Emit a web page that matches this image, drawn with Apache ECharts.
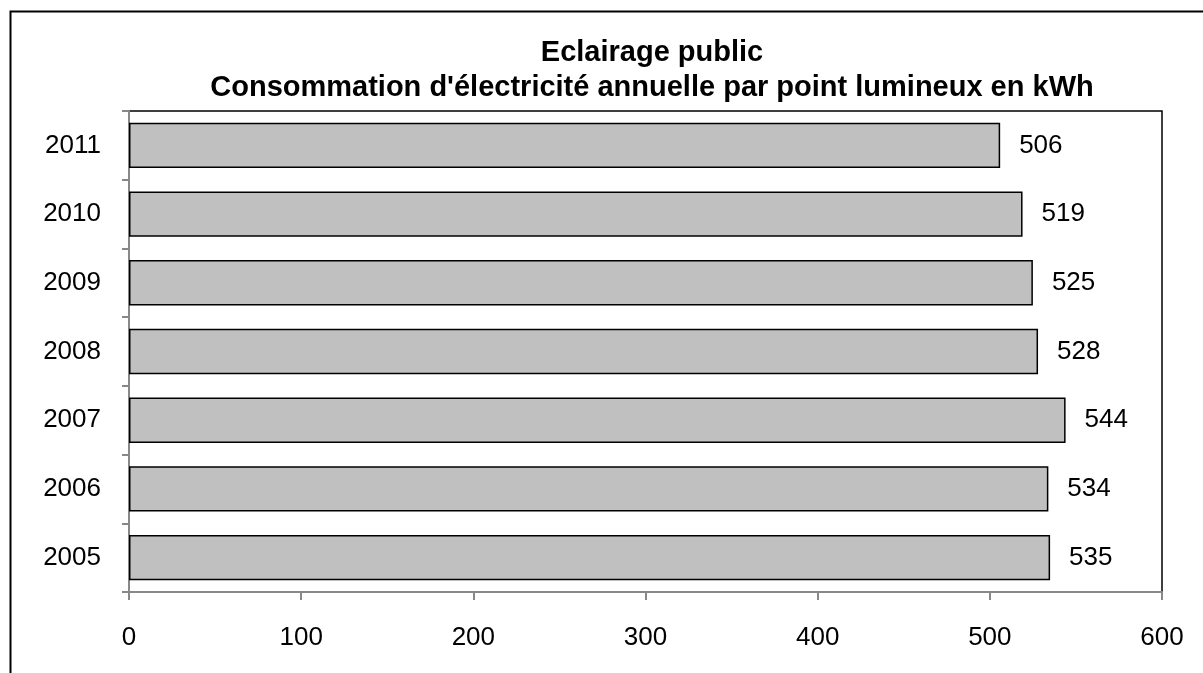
<!DOCTYPE html>
<html><head><meta charset="utf-8">
<script src="https://cdn.jsdelivr.net/npm/echarts@6/dist/echarts.min.js"></script>
<style>html,body{margin:0;padding:0;background:#fff}#c{width:1203px;height:673px}</style>
</head><body><div id="c"></div>
<script>
var years = ['2005','2006','2007','2008','2009','2010','2011'];
var values = [535, 534, 544, 528, 525, 519, 506];
var xTicks = [0, 100, 200, 300, 400, 500, 600];
var titleLines = ['Eclairage public', "Consommation d'électricité annuelle par point lumineux en kWh"];

var chart = echarts.init(document.getElementById('c'));
var F = 'Liberation Sans, Arial, sans-serif';
chart.setOption({
  animation: false,
  backgroundColor: '#fff',
  title: {
    text: titleLines.join('\n'),
    left: 647, top: 30, textAlign: 'center',
    textStyle: {fontFamily: F, fontSize: 29, fontWeight: 'bold', color: '#000', lineHeight: 35}
  },
  graphic: [{
    type: 'rect', silent: true, z: 100,
    shape: {x: 10.5, y: 11.5, width: 1400, height: 1000},
    style: {fill: 'none', stroke: '#000', lineWidth: 2}
  }],
  grid: {left: 129, right: 41, top: 111, bottom: 81, show: true, borderColor: '#000', borderWidth: 1.5, backgroundColor: '#fff'},
  xAxis: {
    type: 'value', min: 0, max: 600, interval: 100,
    axisLine: {show: true, lineStyle: {color: '#888', width: 2}},
    axisTick: {show: true, length: 8, lineStyle: {color: '#888', width: 2}},
    splitLine: {show: false},
    axisLabel: {fontFamily: F, fontSize: 26, color: '#000', margin: 33,
      formatter: function(v){ return xTicks.indexOf(v) >= 0 ? String(v) : ''; }}
  },
  yAxis: {
    type: 'category', data: years,
    axisLine: {show: true, lineStyle: {color: '#888', width: 2}},
    axisTick: {show: true, length: 7, lineStyle: {color: '#888', width: 2}},
    axisLabel: {fontFamily: F, fontSize: 26, color: '#000', margin: 28}
  },
  series: [{
    type: 'bar', data: values, barCategoryGap: '34%',
    itemStyle: {color: '#c0c0c0', borderColor: '#000', borderWidth: 1.5},
    label: {show: true, position: 'right', distance: 19, fontFamily: F, fontSize: 26, color: '#000'}
  }]
});
</script></body></html>
